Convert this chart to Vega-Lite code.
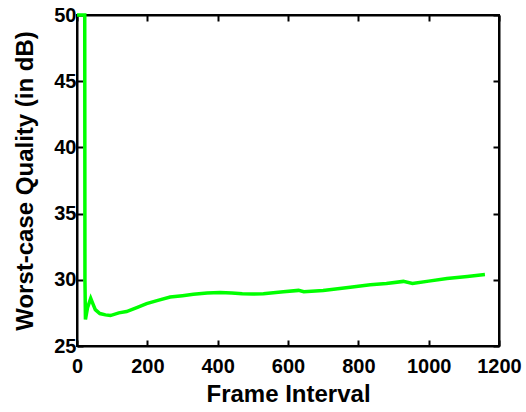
{
  "$schema": "https://vega.github.io/schema/vega-lite/v6.json",
  "autosize": "none",
  "width": 422,
  "height": 331,
  "padding": {"left": 77, "top": 15, "right": 27, "bottom": 66},
  "background": "white",
  "config": {
    "font": "Liberation Sans",
    "view": {"stroke": "black", "strokeWidth": 2},
    "axis": {
      "grid": false,
      "domainColor": "black",
      "domainWidth": 2,
      "tickColor": "black",
      "tickWidth": 2,
      "tickSize": -6,
      "labelFont": "Liberation Sans",
      "labelFontWeight": "bold",
      "labelFontSize": 20,
      "labelColor": "black",
      "titleFont": "Liberation Sans",
      "titleFontWeight": "bold",
      "titleFontSize": 24,
      "titleColor": "black"
    }
  },
  "data": {
    "values": [
      {"frame": 0, "q": 50},
      {"frame": 22, "q": 50},
      {"frame": 22.6, "q": 30.0},
      {"frame": 24, "q": 27.0},
      {"frame": 30, "q": 27.9},
      {"frame": 39, "q": 28.6},
      {"frame": 45, "q": 28.2},
      {"frame": 52, "q": 27.75},
      {"frame": 65, "q": 27.45},
      {"frame": 81, "q": 27.35},
      {"frame": 95, "q": 27.3},
      {"frame": 119, "q": 27.5},
      {"frame": 141, "q": 27.6},
      {"frame": 170, "q": 27.9},
      {"frame": 198, "q": 28.2},
      {"frame": 230, "q": 28.45},
      {"frame": 265, "q": 28.7},
      {"frame": 300, "q": 28.8},
      {"frame": 331, "q": 28.9},
      {"frame": 370, "q": 29.0},
      {"frame": 407, "q": 29.05},
      {"frame": 440, "q": 29.0},
      {"frame": 470, "q": 28.95},
      {"frame": 500, "q": 28.92},
      {"frame": 530, "q": 28.94},
      {"frame": 587, "q": 29.09},
      {"frame": 630, "q": 29.2},
      {"frame": 645, "q": 29.1},
      {"frame": 700, "q": 29.19},
      {"frame": 777, "q": 29.44},
      {"frame": 834, "q": 29.62},
      {"frame": 880, "q": 29.72},
      {"frame": 928, "q": 29.88},
      {"frame": 954, "q": 29.72},
      {"frame": 1000, "q": 29.9},
      {"frame": 1052, "q": 30.1},
      {"frame": 1110, "q": 30.25},
      {"frame": 1160, "q": 30.4}
    ]
  },
  "encoding": {
    "x": {"field": "frame", "type": "quantitative", "scale": {"domain": [0, 1200], "nice": false, "zero": false}},
    "y": {"field": "q", "type": "quantitative", "scale": {"domain": [25, 50], "nice": false, "zero": false}}
  },
  "layer": [
    {
      "mark": {"type": "line", "color": "#00FF00", "strokeWidth": 3.5, "clip": false},
      "encoding": {
        "x": {"field": "frame", "type": "quantitative", "axis": {"title": "Frame Interval", "format": "d", "values": [0, 200, 400, 600, 800, 1000, 1200], "labelPadding": 16, "titlePadding": 6, "labelFlush": false}},
        "y": {"field": "q", "type": "quantitative", "axis": {"title": "Worst-case Quality (in dB)", "format": "d", "values": [25, 30, 35, 40, 45, 50], "labelPadding": 7, "titlePadding": 16, "labelFlush": false}}
      }
    },
    {
      "mark": {"type": "point", "opacity": 0},
      "encoding": {
        "x": {"field": "frame", "type": "quantitative", "axis": {"orient": "top", "title": null, "labels": false, "values": [0, 200, 400, 600, 800, 1000, 1200]}},
        "y": {"field": "q", "type": "quantitative", "axis": {"orient": "right", "title": null, "labels": false, "values": [25, 30, 35, 40, 45, 50]}}
      }
    }
  ],
  "resolve": {"axis": {"x": "independent", "y": "independent"}}
}
